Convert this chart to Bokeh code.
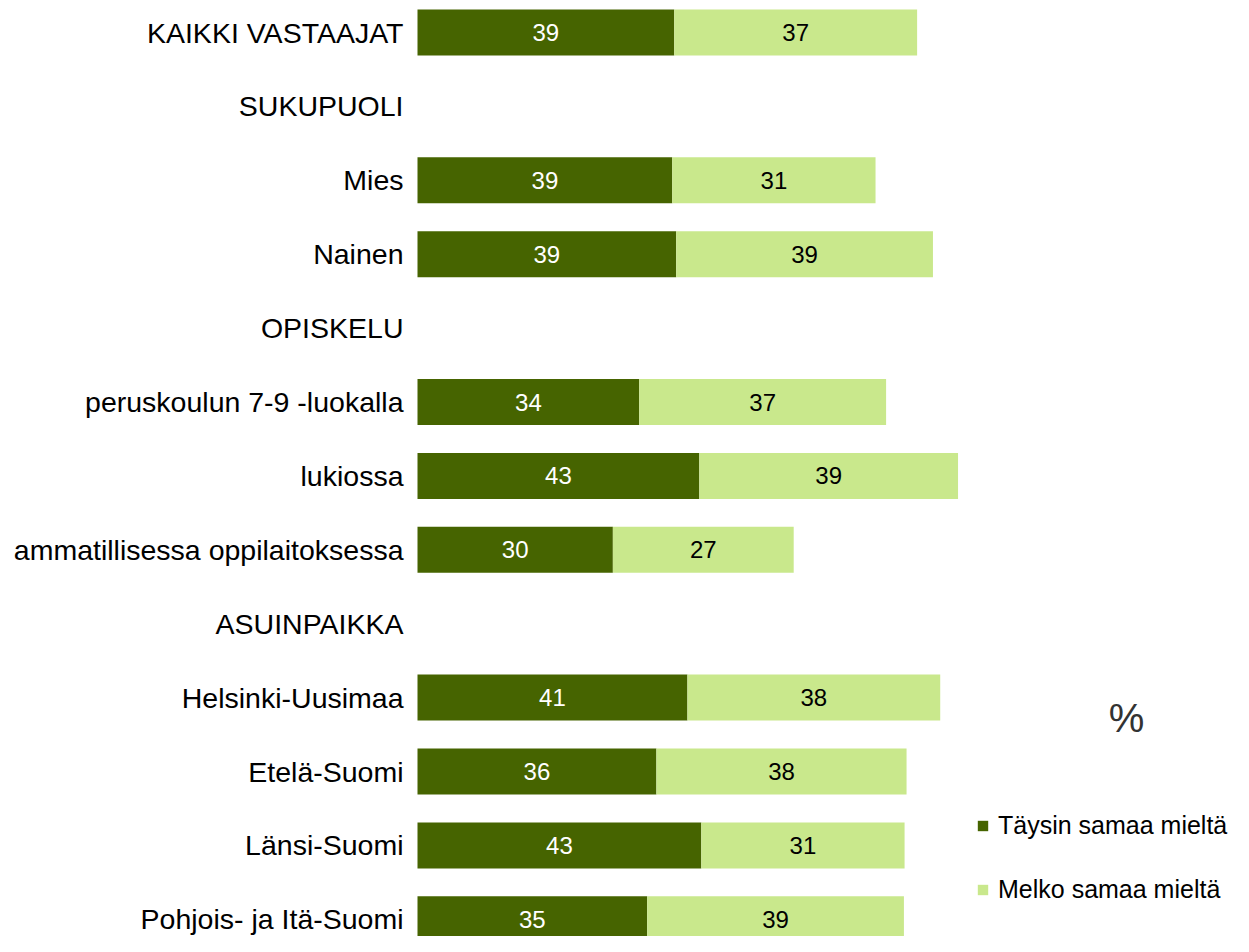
from bokeh.plotting import figure
from bokeh.models import ColumnDataSource, Range1d, Legend, LegendItem, Label
from bokeh.core.properties import value
from bokeh.embed import file_html
from bokeh.resources import INLINE

categories = ["KAIKKI VASTAAJAT", "SUKUPUOLI", "Mies", "Nainen", "OPISKELU",
              "peruskoulun 7-9 -luokalla", "lukiossa", "ammatillisessa oppilaitoksessa",
              "ASUINPAIKKA", "Helsinki-Uusimaa", "Etelä-Suomi", "Länsi-Suomi",
              "Pohjois- ja Itä-Suomi"]
taysin = [38.9, 0, 38.6, 39.2, 0, 33.6, 42.7, 29.6, 0, 40.9, 36.2, 43.0, 34.8]
melko = [36.8, 0, 30.8, 38.9, 0, 37.4, 39.2, 27.4, 0, 38.3, 37.9, 30.8, 38.9]
taysin_lbl = ["39", "", "39", "39", "", "34", "43", "30", "", "41", "36", "43", "35"]
melko_lbl = ["37", "", "31", "39", "", "37", "39", "27", "", "38", "38", "31", "39"]
series_names = ["Täysin samaa mieltä", "Melko samaa mieltä"]

DARK = "#466400"
LIGHT = "#c9e88c"
FONT = "Liberation Sans"

W, H = 1233, 936
PX_PER_UNIT = 6.6
X0 = 417          # pixel where value 0 sits
ROW = 73.9
TOP = 32.0

ypos = list(range(len(categories)))
src = ColumnDataSource(dict(
    y=ypos, cat=categories,
    t_end=taysin,
    m_end=[a + b for a, b in zip(taysin, melko)],
    t_mid=[a / 2 for a in taysin],
    m_mid=[a + b / 2 for a, b in zip(taysin, melko)],
    tl=taysin_lbl, ml=melko_lbl,
))

p = figure(width=W, height=H, output_backend="svg", toolbar_location=None,
           x_range=Range1d(-X0 / PX_PER_UNIT, (W - X0) / PX_PER_UNIT),
           y_range=Range1d((H - TOP) / ROW, -TOP / ROW),
           min_border=0)
p.axis.visible = False
p.grid.visible = False
p.outline_line_color = None
p.background_fill_color = "white"

r1 = p.hbar(y="y", left=0, right="t_end", height=46 / ROW, source=src,
            fill_color=DARK, line_color=None)
r2 = p.hbar(y="y", left="t_end", right="m_end", height=46 / ROW, source=src,
            fill_color=LIGHT, line_color=None)

p.text(x="t_mid", y="y", text="tl", source=src, text_color="white",
       text_font=value(FONT), text_font_size="24px",
       text_align="center", text_baseline="middle")
p.text(x="m_mid", y="y", text="ml", source=src, text_color="black",
       text_font=value(FONT), text_font_size="24px",
       text_align="center", text_baseline="middle")
p.text(x=0, y="y", text="cat", source=src, x_offset=-14, text_color="black",
       text_font=value(FONT), text_font_size="28.5px",
       text_align="right", text_baseline="middle")

legend = Legend(items=[LegendItem(label=series_names[0], renderers=[r1]),
                       LegendItem(label=series_names[1], renderers=[r2])],
                location=(976, 32), orientation="vertical",
                glyph_width=13, glyph_height=13, label_standoff=9,
                label_text_font=FONT, label_text_font_size="25px",
                label_text_color="black",
                label_height=29, spacing=35, padding=0, margin=0,
                border_line_alpha=0, background_fill_alpha=0)
p.add_layout(legend)

p.add_layout(Label(x=1126, y=H - 717, x_units="screen", y_units="screen",
                   text="%", text_font=FONT, text_font_size="40px",
                   text_color="#333333", text_align="center",
                   text_baseline="middle"))

open("out.html", "w").write(file_html(p, INLINE))
